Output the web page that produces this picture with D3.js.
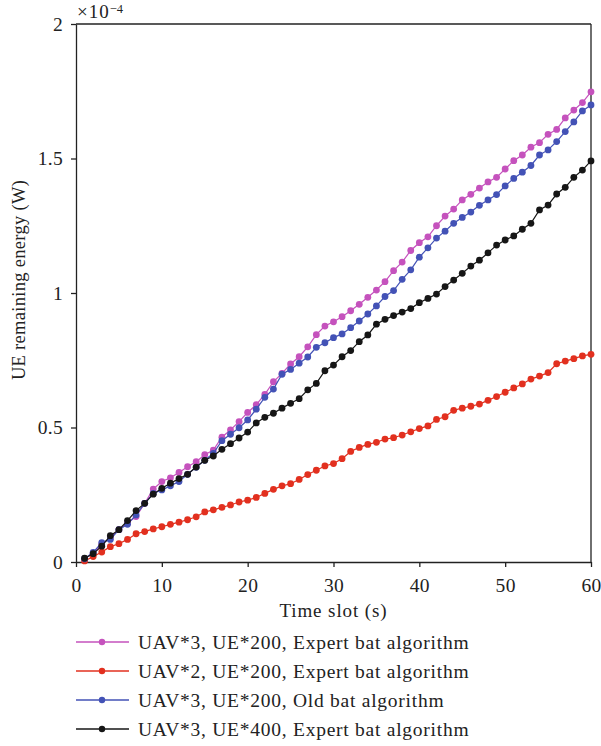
<!DOCTYPE html>
<html><head><meta charset="utf-8">
<script src="https://cdn.jsdelivr.net/npm/d3@7"></script>
<style>body{margin:0;background:#fff}svg{display:block}text{font-family:"Liberation Serif","Times New Roman",serif;fill:#222}</style>
</head><body><div id="c"></div>
<script>
const timeSlots = d3.range(1, 61);
const seriesNames = [
  "UAV*3, UE*200, Expert bat algorithm",
  "UAV*2, UE*200, Expert bat algorithm",
  "UAV*3, UE*200, Old bat algorithm",
  "UAV*3, UE*400, Expert bat algorithm"
];
const seriesColors = ["#c552bd", "#e2301f", "#4352b6", "#161616"];
const pinkValues = [0.012,0.032,0.065,0.090,0.120,0.145,0.169,0.218,0.271,0.299,0.313,0.333,0.354,0.373,0.399,0.416,0.464,0.491,0.522,0.556,0.585,0.623,0.670,0.701,0.736,0.763,0.800,0.845,0.877,0.893,0.912,0.934,0.958,0.984,1.011,1.042,1.083,1.115,1.158,1.187,1.209,1.250,1.286,1.312,1.346,1.367,1.390,1.413,1.430,1.461,1.492,1.513,1.542,1.559,1.590,1.608,1.651,1.680,1.708,1.748];
const redValues = [0.004,0.020,0.037,0.057,0.068,0.084,0.105,0.113,0.123,0.131,0.140,0.148,0.157,0.168,0.186,0.194,0.203,0.212,0.223,0.230,0.240,0.255,0.270,0.283,0.291,0.307,0.325,0.341,0.357,0.366,0.384,0.411,0.426,0.437,0.445,0.457,0.462,0.472,0.484,0.496,0.506,0.530,0.540,0.564,0.572,0.579,0.587,0.601,0.615,0.631,0.647,0.662,0.680,0.691,0.704,0.737,0.747,0.756,0.766,0.772];
const blueValues = [0.012,0.036,0.072,0.084,0.120,0.140,0.175,0.218,0.255,0.268,0.283,0.299,0.326,0.352,0.378,0.404,0.451,0.475,0.499,0.528,0.568,0.612,0.643,0.698,0.716,0.739,0.762,0.798,0.815,0.834,0.848,0.871,0.896,0.922,0.952,0.987,1.009,1.051,1.086,1.133,1.168,1.204,1.230,1.259,1.281,1.301,1.326,1.346,1.366,1.398,1.426,1.449,1.474,1.513,1.532,1.563,1.600,1.636,1.677,1.699];
const blackValues = [0.014,0.031,0.059,0.098,0.120,0.154,0.191,0.218,0.252,0.274,0.293,0.310,0.326,0.353,0.378,0.394,0.419,0.440,0.461,0.483,0.517,0.538,0.553,0.572,0.590,0.607,0.640,0.664,0.711,0.732,0.763,0.786,0.819,0.844,0.884,0.902,0.916,0.929,0.942,0.964,0.980,0.996,1.024,1.048,1.073,1.100,1.122,1.149,1.178,1.197,1.212,1.237,1.259,1.309,1.327,1.368,1.393,1.430,1.457,1.491];
const xTicks = [0,10,20,30,40,50,60];
const yTicks = [0,0.5,1,1.5,2];
const allValues = [pinkValues, redValues, blueValues, blackValues];

const W = 601, H = 746;
const m = {l:76, r:10, t:24, b:184};
const svg = d3.select("#c").append("svg").attr("width", W).attr("height", H);
const x = d3.scaleLinear().domain([0,60]).range([m.l, W - m.r]);
const y = d3.scaleLinear().domain([0,2]).range([H - m.b, m.t]);

// frame
svg.append("line").attr("x1", x(0)).attr("x2", x(60)).attr("y1", y(2)).attr("y2", y(2)).attr("stroke","#222").attr("stroke-width",1.3);
svg.append("line").attr("x1", x(60)).attr("x2", x(60)).attr("y1", y(0)).attr("y2", y(2)).attr("stroke","#222").attr("stroke-width",1.3);

const xa = svg.append("g").attr("transform", `translate(0,${y(0)})`)
  .call(d3.axisBottom(x).tickValues(xTicks).tickSize(5).tickSizeOuter(0).tickFormat(d3.format("d")));
const ya = svg.append("g").attr("transform", `translate(${x(0)},0)`)
  .call(d3.axisLeft(y).tickValues(yTicks).tickSize(5).tickSizeOuter(0).tickFormat(d => d === 0 ? "0" : String(d)));
[xa, ya].forEach(a => {
  a.selectAll("path,line").attr("stroke", "#222").attr("stroke-width", 1.3);
  a.selectAll("text").attr("font-size", 19.5).attr("fill", "#222").attr("font-family", "Liberation Serif").attr("letter-spacing", 0.3);
});
xa.selectAll("text").attr("y", 30).attr("dy", 0);
ya.selectAll("text").attr("x", -13);

// axis labels
svg.append("text").attr("x", (x(0)+x(60))/2).attr("y", 617).attr("text-anchor","middle").attr("font-size",19).attr("letter-spacing",0.9).text("Time slot (s)");
svg.append("text").attr("transform", `translate(25,${280}) rotate(-90)`).attr("text-anchor","middle").attr("font-size",18.5).attr("letter-spacing",0.3).text("UE remaining energy (W)");
const ex = svg.append("text").attr("x", 77).attr("y", 18).attr("font-size", 19).attr("letter-spacing", 1);
ex.append("tspan").text("×10");
ex.append("tspan").attr("dy", -5.5).attr("font-size", 12.5).attr("letter-spacing", 0).text("−4");

// series
const line = d3.line().x((d,i) => x(timeSlots[i])).y(d => y(d));
allValues.forEach((vals, k) => {
  const g = svg.append("g");
  g.append("path").datum(vals).attr("d", line).attr("fill","none").attr("stroke", seriesColors[k]).attr("stroke-width", 1.2);
  g.selectAll("circle").data(vals).enter().append("circle")
    .attr("cx", (d,i) => x(timeSlots[i])).attr("cy", d => y(d)).attr("r", 3.4).attr("fill", seriesColors[k]);
});

// legend
const legY = [642, 671, 700, 729];
seriesNames.forEach((name, k) => {
  const g = svg.append("g");
  g.append("line").attr("x1", 76).attr("x2", 129).attr("y1", legY[k]).attr("y2", legY[k]).attr("stroke", seriesColors[k]).attr("stroke-width", 1.3);
  g.append("circle").attr("cx", 102).attr("cy", legY[k]).attr("r", 3.2).attr("fill", seriesColors[k]);
  g.append("text").attr("x", 138).attr("y", legY[k] + 6.5).attr("font-size", 19.5).attr("letter-spacing", 0.75).text(name);
});
</script></body></html>
